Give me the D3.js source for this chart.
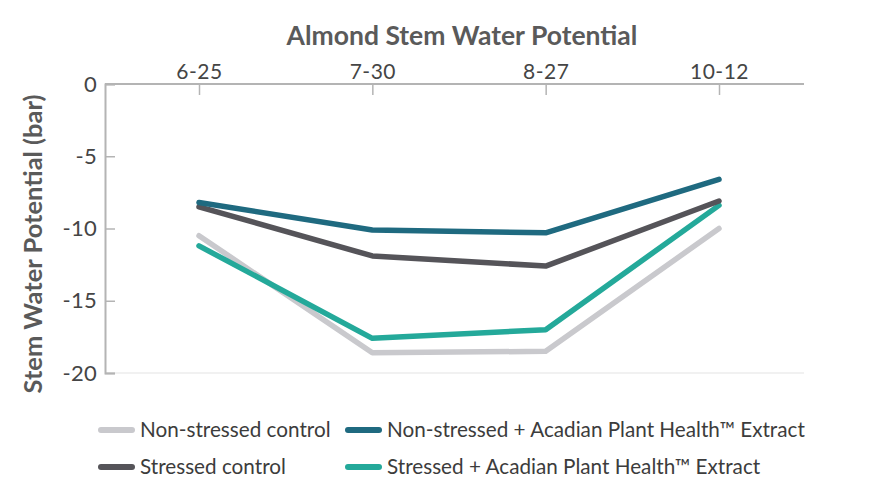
<!DOCTYPE html>
<html><head><meta charset="utf-8">
<script src="https://cdn.jsdelivr.net/npm/d3@7"></script>
<style>body{margin:0;background:#fff}svg{display:block}text{font-family:Lato,"Open Sans",sans-serif}</style>
</head><body>
<svg id="c" width="896" height="504"></svg>
<script>
const categories = ["6-25", "7-30", "8-27", "10-12"];
const nonStressedControl = [-10.5, -18.6, -18.5, -10.0];
const stressedControl = [-8.5, -11.9, -12.6, -8.1];
const nonStressedAPH = [-8.2, -10.1, -10.3, -6.6];
const stressedAPH = [-11.2, -17.6, -17.0, -8.4];
const yTicks = [0, -5, -10, -15, -20];
const seriesNames = ["Non-stressed control", "Non-stressed + Acadian Plant Health™ Extract", "Stressed control", "Stressed + Acadian Plant Health™ Extract"];
const seriesColors = ["#c9c9cd", "#1f6a80", "#555459", "#24a99a"];

(function () {
const series = [
  {name: seriesNames[0], values: nonStressedControl, color: seriesColors[0]},
  {name: seriesNames[1], values: nonStressedAPH, color: seriesColors[1]},
  {name: seriesNames[2], values: stressedControl, color: seriesColors[2]},
  {name: seriesNames[3], values: stressedAPH, color: seriesColors[3]}
];
const drawOrder = [0, 3, 2, 1];

const svg = d3.select("#c");
const mL = 105, mR = 804, mT = 84, mB = 373;
const x = d3.scalePoint().domain(categories).range([199, 719]);
const y = d3.scaleLinear().domain([0, -20]).range([mT, mB]);
const axisColor = "#b4b4b4";

svg.append("line").attr("x1", mL).attr("x2", mR).attr("y1", mB).attr("y2", mB)
  .attr("stroke", "#ececec").attr("stroke-width", 1.5);

const ya = svg.append("g").attr("transform", `translate(${mL},0)`)
  .call(d3.axisLeft(y).tickValues(yTicks).tickSize(-10).tickPadding(8).tickFormat(d3.format("d")));
ya.select(".domain").attr("stroke", axisColor).attr("stroke-width", 2);
ya.selectAll(".tick line").attr("stroke", axisColor).attr("stroke-width", 1.5);
ya.selectAll(".tick text").attr("fill", "#454545").attr("font-size", 22).attr("letter-spacing", "0.3px")
  .text(d => d === 0 ? "0" : "-" + Math.abs(d));

const xa = svg.append("g").attr("transform", `translate(0,${mT})`)
  .call(d3.axisTop(x).tickSize(-11).tickPadding(5).tickSizeOuter(0));
xa.select(".domain").attr("d", `M${mL},0H${mR}`).attr("stroke", axisColor).attr("stroke-width", 2);
xa.selectAll(".tick line").attr("stroke", axisColor).attr("stroke-width", 1.5);
xa.selectAll(".tick text").attr("fill", "#454545").attr("font-size", 21).attr("letter-spacing", "0.5px");

const line = d3.line().x((d, i) => x(categories[i])).y(d => y(d));
drawOrder.forEach(k => {
  const s = series[k];
  svg.append("path").datum(s.values).attr("d", line)
    .attr("fill", "none").attr("stroke", s.color).attr("stroke-width", 5.5)
    .attr("stroke-linejoin", "round").attr("stroke-linecap", "round");
});

svg.append("text").attr("x", 462).attr("y", 45).attr("text-anchor", "middle")
  .attr("font-size", 26.5).attr("font-weight", 700).attr("fill", "#5a5a5a").text("Almond Stem Water Potential");

svg.append("text").attr("transform", "translate(42,244) rotate(-90)").attr("text-anchor", "middle")
  .attr("font-size", 25.5).attr("font-weight", 700).attr("fill", "#5a5a5a").text("Stem Water Potential (bar)");

const legendPos = [[98, 430], [345, 430], [98, 467], [345, 467]];
series.forEach((s, i) => {
  const [lx, ly] = legendPos[i];
  const g = svg.append("g").attr("transform", `translate(${lx},${ly})`);
  g.append("line").attr("x1", 3).attr("x2", 34).attr("y1", 0).attr("y2", 0)
    .attr("stroke", s.color).attr("stroke-width", 6).attr("stroke-linecap", "round");
  g.append("text").attr("x", 42).attr("y", 0).attr("dy", "0.35em")
    .attr("font-size", 20.7).attr("fill", "#3c3c3c").text(s.name);
});
})();
</script>
</body></html>
